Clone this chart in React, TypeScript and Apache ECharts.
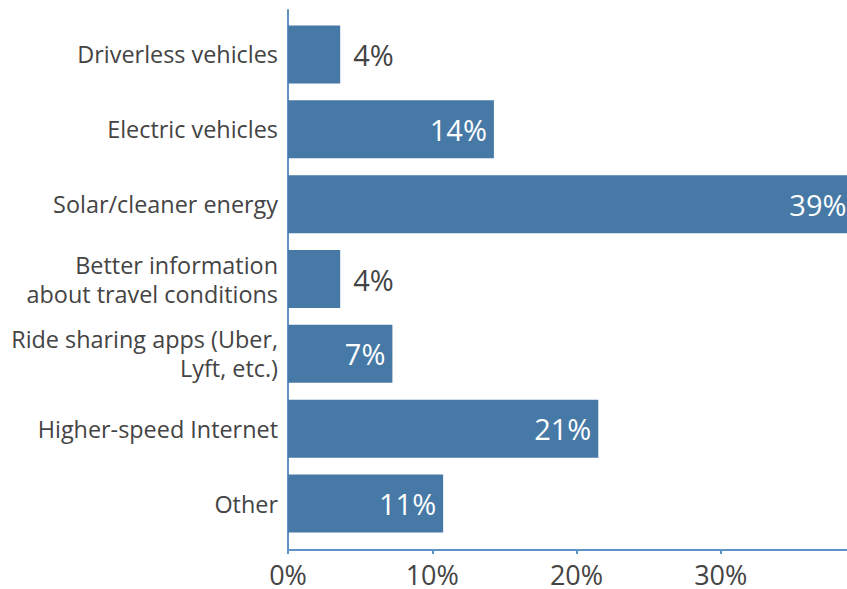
import React, { useEffect, useRef } from "react";
import * as echarts from "echarts";

const categories = [
  "Driverless vehicles",
  "Electric vehicles",
  "Solar/cleaner energy",
  "Better information\nabout travel conditions",
  "Ride sharing apps (Uber,\nLyft, etc.)",
  "Higher-speed Internet",
  "Other",
];
const values = [3.6, 14.2, 39, 3.6, 7.2, 21.4, 10.7];
const valueLabels = ["4%", "14%", "39%", "4%", "7%", "21%", "11%"];
const outsideLabel = [true, false, false, true, false, false, false];
const xTicks = [0, 10, 20, 30];

const FONT = "Open Sans";
const BAR = "#4679a6";
const AXIS = "#5f93c6";
const TEXT = "#444444";

export default function App() {
  const ref = useRef<HTMLDivElement>(null);
  useEffect(() => {
    document.documentElement.style.overflow = "hidden";
    document.body.style.overflow = "hidden";
    const chart = echarts.init(ref.current!, null, { renderer: "svg" });
    const data = values.map((v, i) => ({
      value: v,
      label: outsideLabel[i]
        ? { position: "right", color: TEXT, distance: 13 }
        : { position: "insideRight", color: "#ffffff", distance: 7 },
    }));
    chart.setOption({
      animation: false,
      textStyle: { fontFamily: FONT },
      grid: [
        { left: 288, right: 0, top: 17, bottom: 48 },
        { left: 288, right: 0, top: 10, bottom: 39 },
      ],
      xAxis: [
        { type: "value", gridIndex: 0, min: 0, max: 40, show: false },
        {
          type: "value",
          gridIndex: 1,
          min: 0,
          max: 40,
          interval: 10,
          axisLine: { show: true, lineStyle: { color: AXIS, width: 2 } },
          axisTick: { show: true, length: 4, lineStyle: { color: AXIS, width: 2 } },
          splitLine: { show: false },
          axisLabel: {
            color: TEXT,
            fontSize: 27,
            lineHeight: 24,
            fontFamily: FONT,
            margin: 12,
            formatter: (v: number) => (xTicks.includes(v) ? v + "%" : ""),
          },
        },
      ],
      yAxis: [
        {
          type: "category",
          gridIndex: 0,
          inverse: true,
          data: categories,
          axisLine: { show: false },
          axisTick: { show: false },
          axisLabel: {
            color: TEXT,
            fontSize: 23.4,
            fontFamily: FONT,
            margin: 10,
            lineHeight: 29,
            align: "right",
          },
        },
        {
          type: "value",
          gridIndex: 1,
          min: 0,
          max: 1,
          axisLine: { show: true, lineStyle: { color: AXIS, width: 2 } },
          axisTick: { show: false },
          axisLabel: { show: false },
          splitLine: { show: false },
        },
      ],
      series: [
        {
          type: "bar",
          xAxisIndex: 0,
          yAxisIndex: 0,
          data,
          barWidth: 58,
          itemStyle: { color: BAR },
          label: {
            show: true,
            fontSize: 29,
            fontFamily: FONT,
            formatter: (p: any) => valueLabels[p.dataIndex],
          },
        },
      ],
    });
    return () => chart.dispose();
  }, []);
  return (
    <div
      ref={ref}
      style={{ position: "fixed", left: 0, top: 0, width: 868, height: 589, background: "#fff" }}
    />
  );
}
